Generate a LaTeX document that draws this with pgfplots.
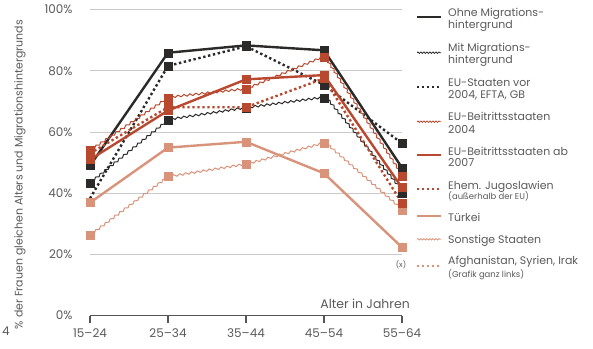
\documentclass[border=0pt]{standalone}
\usepackage{fontspec}
\setmainfont{Poppins}
\usepackage{pgfplots}
\pgfplotsset{compat=1.18}
\usetikzlibrary{decorations.pathmorphing}
\definecolor{cblack}{HTML}{2B2A28}
\definecolor{cred}{HTML}{B8482E}
\definecolor{csalmon}{HTML}{D9937A}
\definecolor{gridgray}{HTML}{CACACA}
\definecolor{axisgray}{HTML}{555555}
\definecolor{textgray}{HTML}{5A5A5A}
\tikzset{
  wavy/.style={decorate, decoration={snake, amplitude=1bp, segment length=6bp}},
  dots/.style={dash pattern=on 2.4bp off 2.6bp},
}
\begin{document}
\begin{tikzpicture}[x=1bp,y=1bp]
\useasboundingbox (0,0) rectangle (593,348);
\begin{axis}[
  at={(90bp,32.4bp)}, anchor=south west,
  scale only axis, width=312bp, height=306bp,
  xmin=0, xmax=4, ymin=0, ymax=100,
  xtick={0,1,2,3,4},
  xticklabels={15–24,25–34,35–44,45–54,55–64},
  ytick={0,20,40,60,80,100},
  yticklabel={\pgfmathprintnumber{\tick}\%},
  /pgf/number format/assume math mode=true,
  ymajorgrids, grid style={color=gridgray, line width=0.9bp},
  axis lines*=left,
  y axis line style={draw=none},
  x axis line style={color=axisgray, line width=1.2bp},
  xtick style={color=axisgray, line width=1.2bp},
  ytick style={draw=none},
  tick align=outside, major tick length=7bp,
  ticklabel style={font=\fontsize{12}{14}\selectfont, text=textgray},
  yticklabel style={xshift=-7bp},
  xticklabel style={yshift=-3bp},
  clip=false,
  every axis plot/.append style={mark options={line width=0pt}},
]
% lines
\addplot[csalmon, line width=1bp, wavy] coordinates {(0,26.3)(1,45.4)(2,49.5)(3,56.5)(4,34.3)};
\addplot[csalmon, line width=2.4bp] coordinates {(0,36.9)(1,54.9)(2,56.8)(3,46.5)(4,22.3)};
\addplot[cblack, line width=2.4bp, dots] coordinates {(0,38.3)(1,81.6)(2,88)(3,75.4)(4,56.3)};
\addplot[cblack, line width=1bp, wavy] coordinates {(0,43.4)(1,63.9)(2,67.8)(3,71.2)(4,40)};
\addplot[cblack, line width=2.4bp] coordinates {(0,49)(1,85.9)(2,88.3)(3,86.7)(4,48.3)};
\addplot[cred, line width=2.4bp, dots] coordinates {(0,53)(1,68.1)(2,68.1)(3,77.5)(4,36.7)};
\addplot[cred, line width=2.4bp] coordinates {(0,51)(1,67)(2,77.2)(3,78.6)(4,41.8)};
\addplot[cred, line width=1bp, wavy] coordinates {(0,54)(1,71.2)(2,74)(3,84.6)(4,45.5)};
% marks
\addplot[only marks, mark=square*, mark size=4bp, mark options={fill=csalmon, draw=csalmon}] coordinates {(0,26.3)(1,45.4)(2,49.5)(3,56.5)(4,34.3)};
\addplot[only marks, mark=square*, mark size=4bp, mark options={fill=csalmon, draw=csalmon}] coordinates {(0,36.9)(1,54.9)(2,56.8)(3,46.5)(4,22.3)};
\addplot[only marks, mark=square*, mark size=4bp, mark options={fill=cblack, draw=cblack}] coordinates {(1,81.6)(2,88)(3,75.4)(4,56.3)};
\addplot[only marks, mark=square*, mark size=4bp, mark options={fill=cblack, draw=cblack}] coordinates {(0,43.4)(1,63.9)(2,67.8)(3,71.2)(4,40)};
\addplot[only marks, mark=square*, mark size=4bp, mark options={fill=cblack, draw=cblack}] coordinates {(0,49)(1,85.9)(2,88.3)(3,86.7)(4,48.3)};
\addplot[only marks, mark=square*, mark size=4bp, mark options={fill=cred, draw=cred}] coordinates {(0,53)(1,68.1)(2,68.1)(3,77.5)(4,36.7)};
\addplot[only marks, mark=square*, mark size=4bp, mark options={fill=cred, draw=cred}] coordinates {(0,51)(1,67)(2,77.2)(3,78.6)(4,41.8)};
\addplot[only marks, mark=square*, mark size=4bp, mark options={fill=cred, draw=cred}] coordinates {(0,54)(1,71.2)(2,74)(3,84.6)(4,45.5)};
\end{axis}
% axis title and notes
\node[anchor=base east, text=textgray, font=\fontsize{12.5}{14}\selectfont, inner sep=0pt] at (410,40) {Alter in Jahren};
\node[text=textgray, font=\fontsize{7.5}{9}\selectfont, inner sep=0pt] at (401,83) {(x)};
\node[rotate=90, anchor=east, text=textgray, font=\fontsize{11}{13}\selectfont, inner sep=0pt] at (20,328) {\% der Frauen gleichen Alters und Migrationshintergrunds};
\node[anchor=base west, text=textgray, font=\fontsize{12}{14}\selectfont, inner sep=0pt] at (2,13) {4};
% legend
\begin{scope}[every node/.style={anchor=base west, text=textgray, inner sep=0pt, font=\fontsize{11}{13}\selectfont}]
\draw[cblack, line width=2bp] (417,331.3) -- (441,331.3);
\node at (448,331.3) {Ohne Migrations-};
\node at (448,319.7) {hintergrund};
\draw[cblack, line width=0.8bp, decorate, decoration={snake, amplitude=0.7bp, segment length=3bp}] (417,295.3) -- (441,295.3);
\node at (448,296.3) {Mit Migrations-};
\node at (448,284.7) {hintergrund};
\draw[cblack, line width=2bp, dots] (417,260.7) -- (441,260.7);
\node at (448,262) {EU-Staaten vor};
\node at (448,249.7) {2004, EFTA, GB};
\draw[cred, line width=0.8bp, decorate, decoration={snake, amplitude=0.7bp, segment length=3bp}] (417,226.3) -- (441,226.3);
\node at (448,227.3) {EU-Beitrittsstaaten};
\node at (448,214.7) {2004};
\draw[cred, line width=2bp] (417,193) -- (441,193);
\node at (448,193) {EU-Beitrittsstaaten ab};
\node at (448,181.3) {2007};
\draw[cred, line width=2bp, dots] (417,158.7) -- (441,158.7);
\node at (448,158.7) {Ehem. Jugoslawien};
\node[font=\fontsize{8.5}{10}\selectfont] at (448,148.7) {(außerhalb der EU)};
\draw[csalmon, line width=2bp] (417,132.3) -- (441,132.3);
\node at (448,126.3) {Türkei};
\draw[csalmon, line width=0.8bp, decorate, decoration={snake, amplitude=0.7bp, segment length=3bp}] (417,108.7) -- (441,108.7);
\node at (448,104.7) {Sonstige Staaten};
\draw[csalmon, line width=2bp, dots] (417,82) -- (441,82);
\node at (448,84) {Afghanistan, Syrien, Irak};
\node[font=\fontsize{8.5}{10}\selectfont] at (448,70.7) {(Grafik ganz links)};
\end{scope}
\end{tikzpicture}
\end{document}
